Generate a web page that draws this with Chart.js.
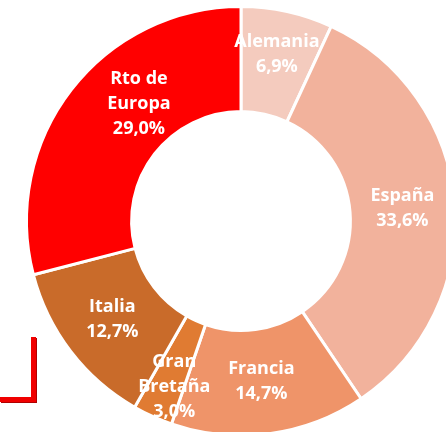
<!DOCTYPE html>
<html>
<head>
<meta charset="utf-8">
<script src="https://cdn.jsdelivr.net/npm/chart.js@4"></script>
<style>
  html, body { margin: 0; padding: 0; background: #fff; overflow: hidden; width: 446px; height: 432px; }
  #wrap { position: absolute; left: 0; top: 0; }
  #mark { position: absolute; left: 0; top: 337px; width: 31px; height: 60px;
          border-right: 5px solid #f00000; border-bottom: 5px solid #f00000;
          box-shadow: 1px 1px 0 #b00000; }
</style>
</head>
<body>
<div id="wrap"><canvas id="c" width="482" height="442"></canvas></div>
<div id="mark"></div>
<script>
const categories = ["Alemania", "España", "Francia", "Gran Bretaña", "Italia", "Rto de Europa"];
const labelLines = [["Alemania"], ["España"], ["Francia"], ["Gran", "Bretaña"], ["Italia"], ["Rto de", "Europa"]];
const shares = [6.9, 33.6, 14.7, 3.0, 12.7, 29.0];
const colors = ["#F4CBBE", "#F2B29C", "#EF9469", "#E07B32", "#C96B2A", "#FF0000"];
// small nudges of the label text relative to each arc's centre
const labelNudge = [[1, -8], [0, 0], [-1, 0], [0, 18], [0, 0], [26, -18]];

const fmt = v => v.toFixed(1).replace(".", ",") + "%";

const labelPlugin = {
  id: "sliceLabels",
  afterDatasetsDraw(chart) {
    const ctx = chart.ctx;
    const meta = chart.getDatasetMeta(0);
    ctx.save();
    ctx.fillStyle = "#ffffff";
    ctx.font = "bold 18px 'Open Sans'";
    ctx.textAlign = "center";
    ctx.textBaseline = "middle";
    const lh = 25;
    meta.data.forEach((arc, i) => {
      const p = arc.tooltipPosition();
      const lines = labelLines[i].concat([fmt(shares[i])]);
      const x = p.x + labelNudge[i][0];
      const y0 = p.y + labelNudge[i][1] - (lines.length - 1) * lh / 2;
      lines.forEach((t, k) => ctx.fillText(t, x, y0 + k * lh));
    });
    ctx.restore();
  }
};

new Chart(document.getElementById("c"), {
  type: "doughnut",
  data: {
    labels: categories,
    datasets: [{
      data: shares,
      backgroundColor: colors,
      borderColor: "#ffffff",
      borderWidth: 3,
      hoverOffset: 0
    }]
  },
  options: {
    responsive: false,
    animation: false,
    cutout: "51%",
    layout: { padding: 5 },
    plugins: { legend: { display: false }, tooltip: { enabled: false } }
  },
  plugins: [labelPlugin]
});
</script>
</body>
</html>
